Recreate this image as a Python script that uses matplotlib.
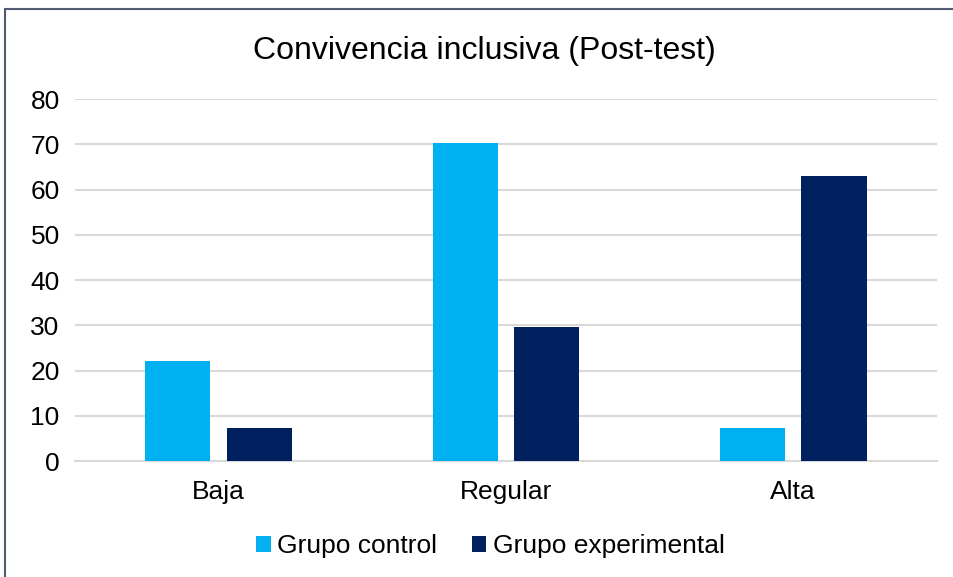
import numpy as np
import matplotlib.pyplot as plt
from matplotlib.patches import Rectangle

plt.rcParams['font.family'] = ['Liberation Sans', 'DejaVu Sans']

categorias = ['Baja', 'Regular', 'Alta']
grupo_control = [22.2, 70.4, 7.4]
grupo_experimental = [7.4, 29.6, 63.0]
series = ['Grupo control', 'Grupo experimental']
colores = ['#00b0f0', '#002060']

fig = plt.figure(figsize=(9.54, 5.77), dpi=100)
ax = fig.add_axes([0.0786, 0.201, 0.9034, 0.627])

x = np.arange(len(categorias))
w = 0.227
off = 0.142
ax.bar(x - off, grupo_control, w, color=colores[0], label=series[0], zorder=3)
ax.bar(x + off, grupo_experimental, w, color=colores[1], label=series[1], zorder=3)

ax.set_xlim(-0.5, 2.5)
ax.set_ylim(0, 80)
ax.set_yticks(range(0, 81, 10))
ax.set_xticks(x)
ax.set_xticklabels(categorias)
ax.tick_params(axis='both', length=0, labelsize=19)
ax.tick_params(axis='y', pad=11)
ax.tick_params(axis='x', pad=14)
ax.grid(axis='y', color='#d9d9d9', linewidth=1.5, zorder=0)
for s in ['top', 'right', 'left']:
    ax.spines[s].set_visible(False)
ax.spines['bottom'].set_color('#d9d9d9')
ax.spines['bottom'].set_linewidth(1.5)

fig.text(0.508, 0.912, 'Convivencia inclusiva (Post-test)', ha='center', va='center', fontsize=23)

ax.legend(loc='center', bbox_to_anchor=(0.514, 0.053), bbox_transform=fig.transFigure,
          ncol=2, frameon=False, fontsize=19, handlelength=0.55, handleheight=0.55,
          handletextpad=0.25, columnspacing=1.3)

fig.patches.append(Rectangle((5 / 954, -0.05), 1.2, 1.05 - 9 / 577,
                             transform=fig.transFigure, fill=False,
                             edgecolor='#4f5b73', linewidth=1.5))

fig.savefig('out.png', dpi=100)
